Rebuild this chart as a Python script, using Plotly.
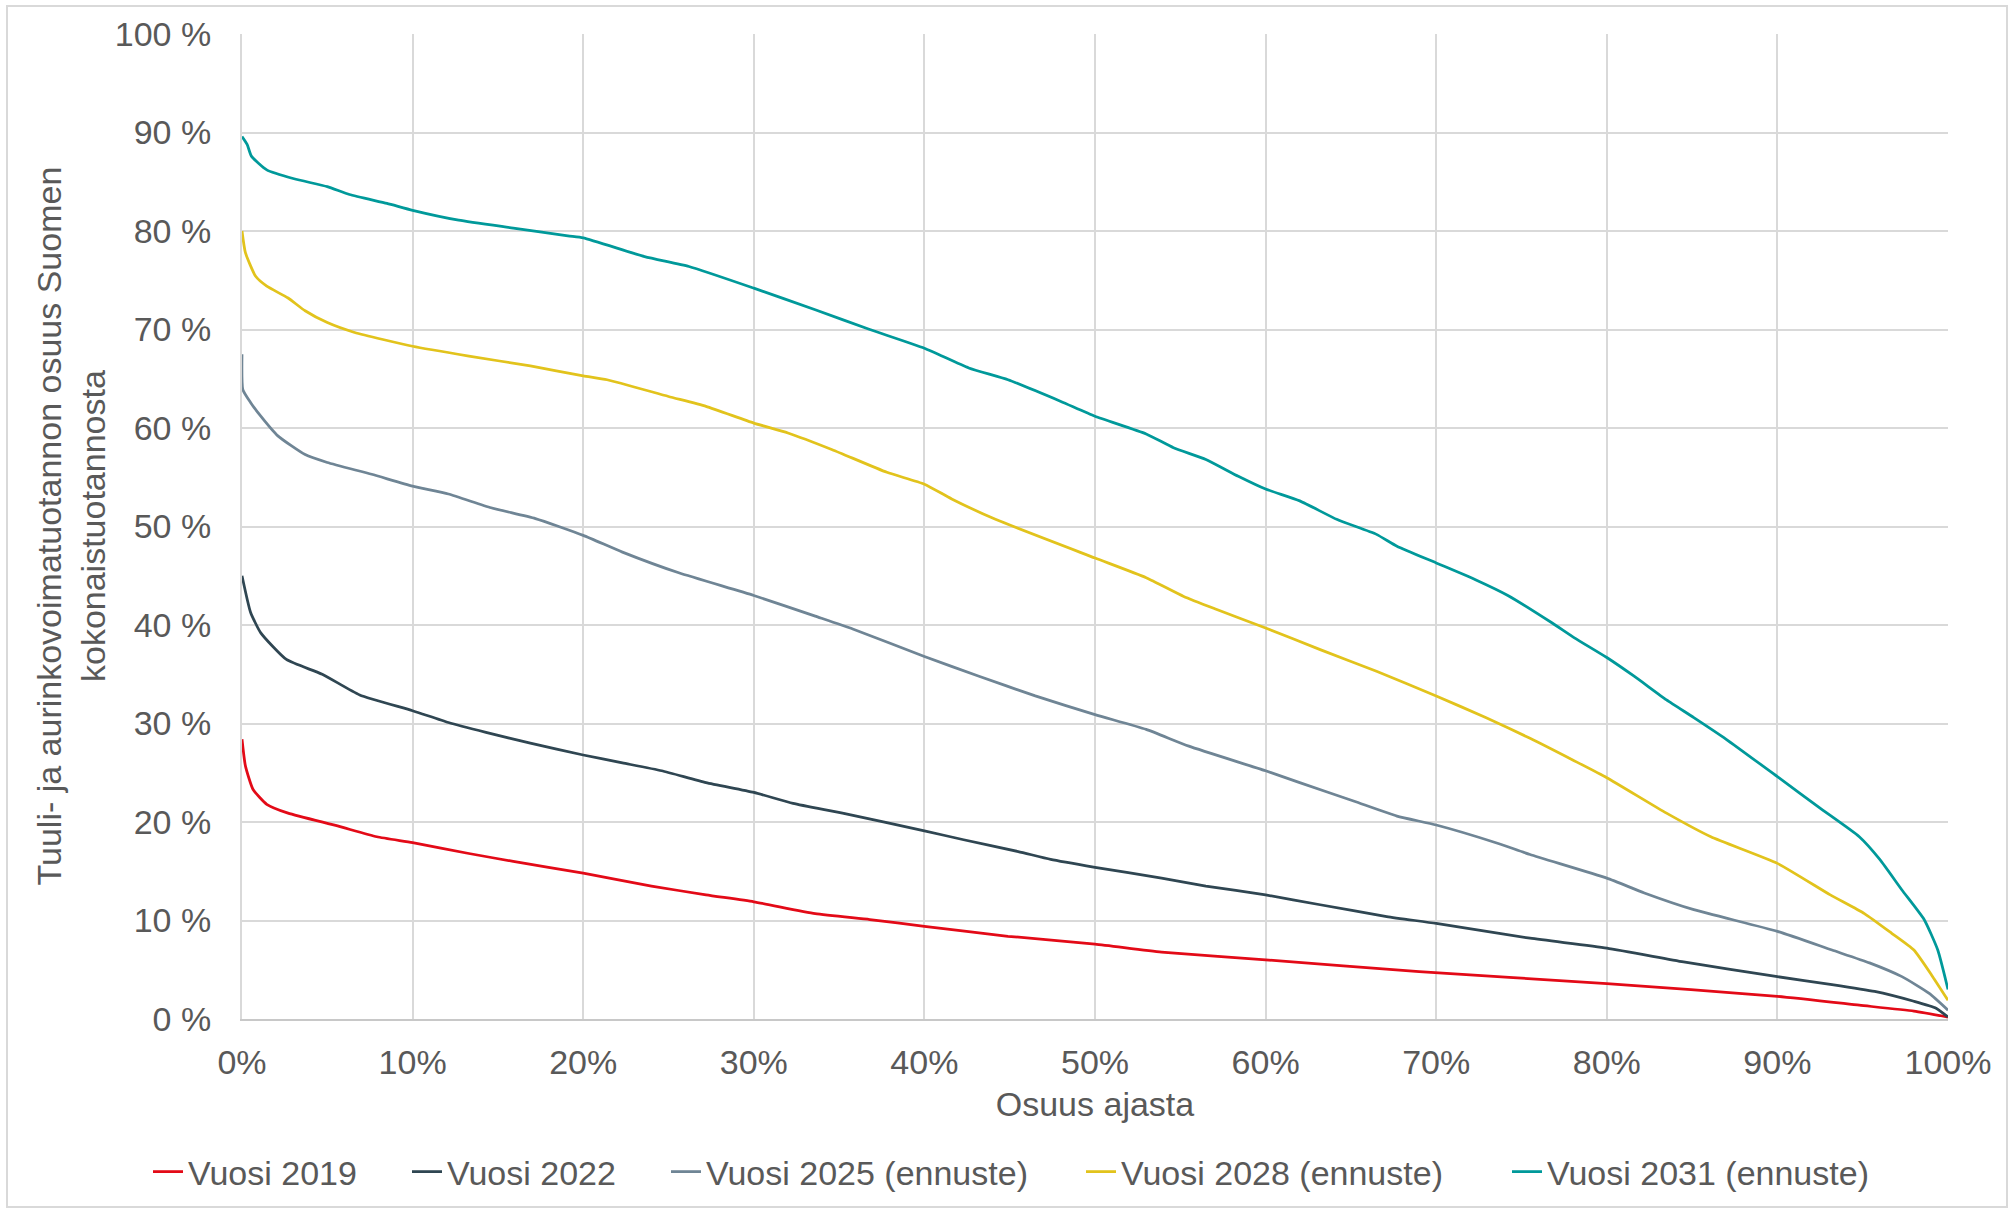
import plotly.graph_objects as go

# Share of wind + solar in Finland's total generation, sorted duration curves
# x: share of time (%), y: share of total production (%)

x_2019 = [0, 0.2, 0.65, 1.45, 2.7, 5.6, 7.9, 10, 13.3, 15.9, 20, 24, 27.2, 30, 33.6, 36.8, 40, 44.9,
          50, 53.9, 60, 69, 80, 90, 94.8, 98, 100]
y_2019 = [28.4, 25.7, 23.3, 21.8, 20.9, 19.6, 18.5, 17.9, 16.8, 16.0, 14.8, 13.5, 12.6, 11.9, 10.7, 10.1, 9.4, 8.4,
          7.6, 6.8, 6.0, 4.8, 3.6, 2.3, 1.4, 0.8, 0.2]

x_2022 = [0, 0.5, 1.1, 2.6, 4.7, 6.9, 10, 12.1, 14.3, 16.9, 20, 22.3, 24.6, 27.2, 30, 32.3, 35.2, 40, 42.3,
          45.5, 47.4, 50, 53.9, 56.5, 60, 63.2, 67.1, 70, 75.5, 80, 84.5, 90, 93.2, 95.7, 98, 99.3, 100]
y_2022 = [45.0, 41.3, 39.2, 36.5, 35.0, 32.9, 31.3, 30.1, 29.1, 28.0, 26.8, 26.0, 25.2, 24.0, 23.0, 21.9, 20.9, 19.1, 18.2,
          17.0, 16.2, 15.4, 14.3, 13.5, 12.6, 11.6, 10.4, 9.7, 8.2, 7.2, 5.8, 4.3, 3.5, 2.8, 1.8, 1.1, 0.2]

x_2025 = [0, 0.05, 0.5, 1.1, 2.1, 3.7, 5, 7.6, 10, 12.1, 14.6, 17.2, 20, 22.3, 25.6, 30, 33.6, 35.8, 40, 43.2,
          46.5, 50, 53, 55.5, 60, 62, 65.2, 67.7, 70, 73.5, 75.5, 80, 82.2, 85.1, 90, 93.2, 95.4, 97.3, 98.9, 100]
y_2025 = [67.5, 63.9, 62.6, 61.2, 59.2, 57.3, 56.5, 55.3, 54.1, 53.3, 51.9, 50.8, 49.1, 47.4, 45.3, 43.0, 40.9, 39.6, 36.8, 34.8,
          32.8, 30.9, 29.4, 27.7, 25.2, 24.0, 22.1, 20.6, 19.7, 17.9, 16.7, 14.3, 12.8, 11.1, 8.9, 7.0, 5.7, 4.3, 2.6, 0.9]

x_2028 = [0, 0.2, 0.8, 1.45, 2.7, 3.7, 5, 6.6, 10, 13.3, 16.9, 20, 21.4, 25, 27.2, 30, 32, 34.6, 37.8, 40,
          41.6, 44.2, 50, 53, 55.2, 57.1, 60, 63.2, 66.5, 70, 72.9, 75.5, 78, 80, 83.5, 86.1, 90, 93.1, 95.1,
          96.7, 98, 99.1, 100]
y_2028 = [80.0, 77.8, 75.4, 74.4, 73.2, 71.9, 70.7, 69.7, 68.3, 67.3, 66.3, 65.3, 64.9, 63.2, 62.2, 60.5, 59.5, 57.8, 55.5, 54.3,
          52.8, 50.7, 46.8, 44.8, 42.9, 41.6, 39.7, 37.5, 35.3, 32.8, 30.6, 28.5, 26.3, 24.5, 20.9, 18.5, 15.8, 12.6, 10.7,
          8.7, 7.0, 4.3, 1.9]

x_2031 = [0, 0.3, 0.55, 1.45, 3.05, 5, 6.3, 8.5, 10, 12.7, 15.9, 19.1, 20, 23.6, 26.2, 30, 33.6, 36.8, 40, 42.6,
          44.9, 48, 50, 53, 54.6, 56.5, 58.4, 60, 62, 64.2, 66.5, 67.7, 70, 72.3, 74.2, 76.8, 78.1, 80, 81.6, 83.5,
          85.1, 87, 90, 92.5, 94.8, 96, 97.3, 98.6, 99.4, 100]
y_2031 = [89.6, 88.8, 87.6, 86.2, 85.3, 84.5, 83.7, 82.8, 82.1, 81.1, 80.3, 79.5, 79.3, 77.4, 76.4, 74.2, 72.0, 70.0, 68.1, 66.1,
          64.9, 62.7, 61.2, 59.4, 58.0, 56.8, 55.1, 53.8, 52.6, 50.7, 49.2, 48.0, 46.3, 44.6, 43.0, 40.2, 38.7, 36.7, 34.8, 32.4,
          30.6, 28.4, 24.6, 21.4, 18.5, 16.2, 13.1, 10.1, 7.0, 3.0]

series_names = ["Vuosi 2019", "Vuosi 2022", "Vuosi 2025 (ennuste)", "Vuosi 2028 (ennuste)", "Vuosi 2031 (ennuste)"]
series_x = [x_2019, x_2022, x_2025, x_2028, x_2031]
series_y = [y_2019, y_2022, y_2025, y_2028, y_2031]
series_colors = ["#e30a17", "#2f4652", "#6f8595", "#e2c31c", "#00999a"]

x_tickvals = list(range(0, 101, 10))
x_ticktext = [f"{v}%" for v in x_tickvals]
y_tickvals = list(range(0, 101, 10))
y_ticktext = [f"{v} %" for v in y_tickvals]

TEXT = "#595959"
FONT = "Liberation Sans, Arial, sans-serif"
FS = 34

W, H = 2010, 1210
L, R, T, B = 242, 62, 34, 191
pw, ph = W - L - R, H - T - B

# left edge (px) of each legend entry along the bottom row
legend_left_px = [148, 407, 666, 1081, 1507]

fig = go.Figure()
legend_layouts = {}
for i, (name, xs, ys, col) in enumerate(zip(series_names, series_x, series_y, series_colors)):
    key = "legend" if i == 0 else f"legend{i + 1}"
    fig.add_trace(go.Scatter(x=xs, y=ys, mode="lines", name=name,
                             line=dict(color=col, width=2.75, shape="spline", smoothing=0.5),
                             legend=key))
    legend_layouts[key] = dict(
        orientation="h", xref="container", yref="container",
        x=legend_left_px[i] / W, xanchor="left", y=1 - 1172 / H, yanchor="middle",
        font=dict(size=FS, color=TEXT, family=FONT), itemwidth=30,
        bgcolor="rgba(0,0,0,0)")

fig.update_layout(
    width=W, height=H,
    margin=dict(l=L, r=R, t=T, b=B, autoexpand=False),
    paper_bgcolor="white", plot_bgcolor="white",
    font=dict(family=FONT, size=FS, color=TEXT),
    showlegend=True,
    xaxis=dict(range=[0, 100], tickvals=x_tickvals, ticktext=x_ticktext,
               showgrid=True, gridcolor="#d9d9d9", gridwidth=2,
               showline=True, linecolor="#c8c8c8", linewidth=2,
               zeroline=False, ticks="", ticklabelstandoff=12,
               tickfont=dict(size=FS, color=TEXT),
               title=dict(text="Osuus ajasta", font=dict(size=FS, color=TEXT), standoff=12),
               automargin=False),
    yaxis=dict(range=[0, 100], tickvals=y_tickvals, ticktext=y_ticktext,
               showgrid=True, gridcolor="#d9d9d9", gridwidth=2,
               showline=True, linecolor="#d9d9d9", linewidth=2,
               zeroline=False, ticks="", ticklabelstandoff=22,
               tickfont=dict(size=FS, color=TEXT),
               automargin=False),
    annotations=[dict(
        text="Tuuli- ja aurinkovoimatuotannon osuus Suomen<br>kokonaistuotannosta",
        xref="paper", yref="paper", x=(70 - L) / pw, y=0.5,
        xanchor="center", yanchor="middle", textangle=-90, showarrow=False,
        font=dict(size=FS, color=TEXT, family=FONT))],
    shapes=[dict(type="rect", xref="paper", yref="paper",
                 x0=(7 - L) / pw, x1=(2007 - L) / pw,
                 y0=(H - B - 1207) / ph, y1=(H - B - 6) / ph,
                 line=dict(color="#d9d9d9", width=2), fillcolor="rgba(0,0,0,0)",
                 layer="below")],
    **legend_layouts,
)

fig.write_html("out.html")
